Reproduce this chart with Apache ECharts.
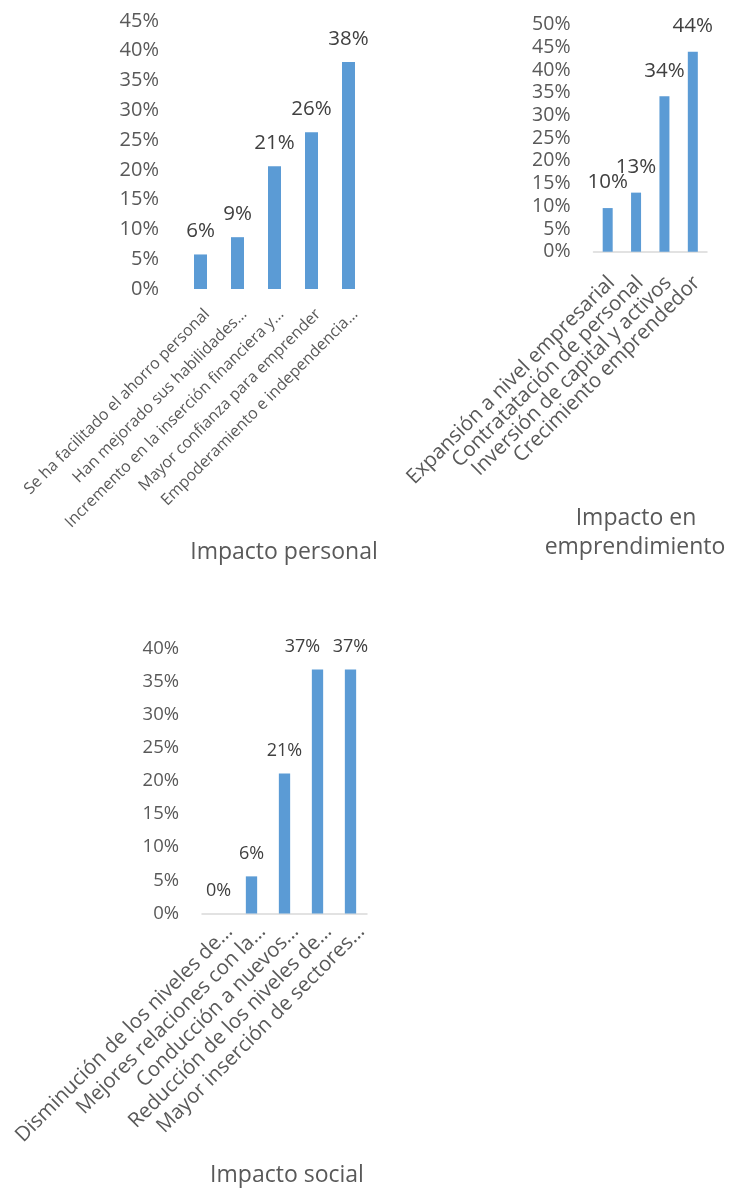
<!DOCTYPE html>
<html><head><meta charset="utf-8">
<script src="https://cdn.jsdelivr.net/npm/echarts@6/dist/echarts.min.js"></script>
<style>html,body{margin:0;padding:0;background:#fff}#c{width:730px;height:1191px}</style>
</head><body><div id="c"></div>
<script>
const personalCats = ["Se ha facilitado el ahorro personal","Han mejorado sus habilidades…","Incremento en la inserción financiera y…","Mayor confianza para emprender","Empoderamiento e independencia…"];
const personalVals = [5.8, 8.7, 20.6, 26.3, 38.1];
const emprendCats = ["Expansión a nivel empresarial","Contratatación de personal","Inversión de capital y activos","Crecimiento emprendedor"];
const emprendVals = [9.6, 13.0, 34.2, 44.0];
const socialCats = ["Disminución de los niveles de…","Mejores relaciones con la…","Conducción a nuevos…","Reducción de los niveles de…","Mayor inserción de sectores…"];
const socialVals = [0, 5.6, 21.1, 36.8, 36.8];
const titles = ["Impacto personal", "Impacto en", "emprendimiento", "Impacto social"];

const FONT = "Open Sans";
const BAR = "#5B9BD5";
const AX = "#595959";
const LBL = "#404040";

function yAx(i, max, fs){
  return {gridIndex:i, type:'value', min:0, max:max, interval:5,
    axisLine:{show:false}, axisTick:{show:false}, splitLine:{show:false},
    axisLabel:{formatter:'{value}%', color:AX, fontSize:fs, fontFamily:FONT, margin:23}};
}
function xAx(i, cats, fs, showLine, lh, margin){
  return {gridIndex:i, type:'category', data:cats,
    axisLine:{show:showLine, lineStyle:{color:'#D9D9D9', width:1.5}}, axisTick:{show:false},
    axisLabel:{interval:0, rotate:45, color:AX, fontSize:fs, fontFamily:FONT, margin:margin,
      verticalAlign:'top', lineHeight:lh}};
}
function ser(i, vals, fs, w, dist, shifts){
  const data = vals.map((v, k) => (shifts && shifts[k]) ? {value:v, label:{offset:[shifts[k],0]}} : v);
  return {type:'bar', xAxisIndex:i, yAxisIndex:i, data:data, barWidth:w,
    itemStyle:{color:BAR},
    label:{show:true, position:'top', distance:dist, color:LBL, fontSize:fs, fontFamily:FONT,
      formatter:p=>Math.round(p.value)+'%'}};
}
const chart = echarts.init(document.getElementById('c'), null, {renderer:'canvas'});
chart.setOption({
  animation:false,
  grid:[
    {left:182, top:21, width:185, height:268},
    {left:593.5, top:24.5, width:113.5, height:227.2},
    {left:202, top:648.3, width:165, height:265.2}
  ],
  xAxis:[xAx(0, personalCats, 16, false, 19, 16), xAx(1, emprendCats, 20.5, true, 11, 24), xAx(2, socialCats, 20.5, true, 31, 4)],
  yAxis:[yAx(0,45,20), yAx(1,50,19.5), yAx(2,40,18.5)],
  series:[ser(0, personalVals, 20.5, 13, 12.5), ser(1, emprendVals, 20.5, 10, 15), ser(2, socialVals, 18, 11.3, 13.5, [0,0,0,-15,0])],
  graphic:[
    {type:'text', x:284, y:552, style:{text:titles[0], textAlign:'center', textVerticalAlign:'middle', fill:AX, font:'23px "Open Sans"'}},
    {type:'text', x:636, y:518, style:{text:titles[1], textAlign:'center', textVerticalAlign:'middle', fill:AX, font:'23px "Open Sans"'}},
    {type:'text', x:635, y:547, style:{text:titles[2], textAlign:'center', textVerticalAlign:'middle', fill:AX, font:'23px "Open Sans"'}},
    {type:'text', x:287, y:1175, style:{text:titles[3], textAlign:'center', textVerticalAlign:'middle', fill:AX, font:'23px "Open Sans"'}}
  ]
});
</script></body></html>
